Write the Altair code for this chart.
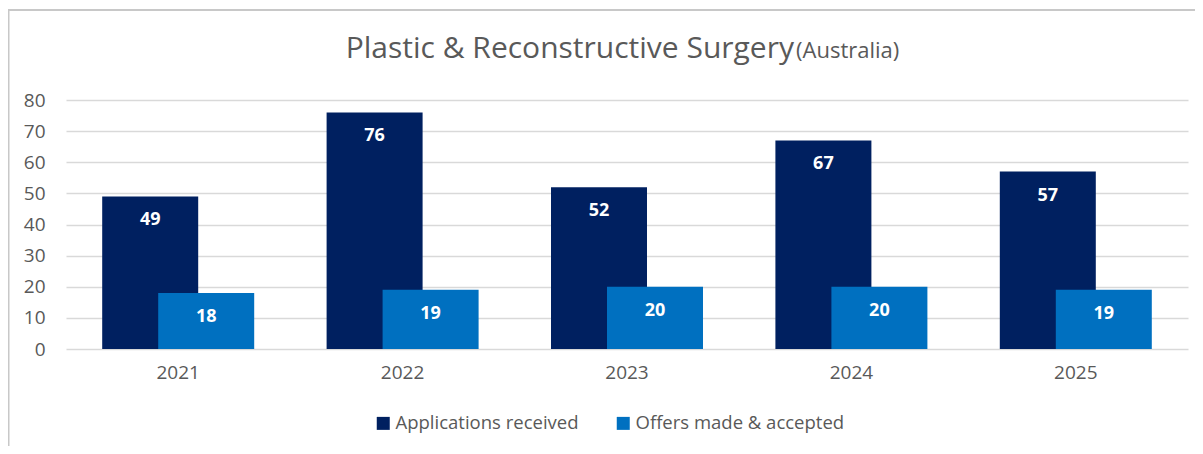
import altair as alt
import pandas as pd

years = ["2021", "2022", "2023", "2024", "2025"]
applications = [49, 76, 52, 67, 57]
offers = [18, 19, 20, 20, 19]
series_names = ["Applications received", "Offers made & accepted"]
series_colors = ["#002060", "#0070C0"]
y_ticks = [0, 10, 20, 30, 40, 50, 60, 70, 80]
title_main = "Plastic & Reconstructive Surgery"
title_sub = "(Australia)"

df = pd.DataFrame({
    "year": years * 2,
    "value": applications + offers,
    "series": [series_names[0]] * len(years) + [series_names[1]] * len(years),
})

FONT = "Open Sans"
GREY = "#595959"
W, H = 1122, 249
BAR_W = 96
OFF = 28

x_enc = alt.X(
    "year:N",
    sort=years,
    scale=alt.Scale(paddingInner=0, paddingOuter=0),
    axis=alt.Axis(title=None, labelAngle=0, domain=False, ticks=False,
                  labelPadding=14, labelFontSize=19, labelColor=GREY,
                  labelFont=FONT, grid=False),
)
y_enc = alt.Y(
    "value:Q",
    scale=alt.Scale(domain=[0, 80], nice=False),
    axis=alt.Axis(title=None, values=y_ticks, domain=False, ticks=False,
                  labelPadding=21, labelFontSize=19, labelColor=GREY,
                  labelFont=FONT, gridColor="#d9d9d9", gridWidth=1.5),
)
color_enc = alt.Color(
    "series:N",
    scale=alt.Scale(domain=series_names, range=series_colors),
    legend=alt.Legend(title=None, orient="none", legendX=308, legendY=314,
                      direction="horizontal", symbolType="square",
                      symbolSize=169, symbolStrokeWidth=0, labelFontSize=18.5,
                      labelColor=GREY, labelFont=FONT, columnPadding=35,
                      labelOffset=3, padding=0, labelLimit=400),
)

base = alt.Chart(df)
apps_f = alt.datum.series == series_names[0]
offs_f = alt.datum.series == series_names[1]

apps_bar = base.transform_filter(apps_f).mark_bar(width=BAR_W, xOffset=-OFF).encode(
    x=x_enc, y=y_enc, color=color_enc)
offs_bar = base.transform_filter(offs_f).mark_bar(width=BAR_W, xOffset=OFF).encode(
    x=x_enc, y=y_enc, color=color_enc)

txt_kw = dict(color="white", fontWeight="bold", fontSize=18, font=FONT,
              baseline="middle", align="center", dy=24)
apps_txt = base.transform_filter(apps_f).mark_text(xOffset=-OFF, **txt_kw).encode(
    x=x_enc, y=y_enc, text="value:Q")
offs_txt = base.transform_filter(offs_f).mark_text(xOffset=OFF, **txt_kw).encode(
    x=x_enc, y=y_enc, text="value:Q")

title_df = pd.DataFrame({"main": [title_main], "sub": [title_sub]})
t_main = alt.Chart(title_df).mark_text(
    font=FONT, fontSize=30, color=GREY, align="right", baseline="alphabetic"
).encode(text="main:N", x=alt.value(728), y=alt.value(-42))
t_sub = alt.Chart(title_df).mark_text(
    font=FONT, fontSize=22, color=GREY, align="left", baseline="alphabetic"
).encode(text="sub:N", x=alt.value(730), y=alt.value(-42))

border = alt.Chart(title_df).mark_rect(
    fillOpacity=0, stroke="#c8c8c8", strokeWidth=2
).encode(x=alt.value(-57.5), x2=alt.value(1300), y=alt.value(-90), y2=alt.value(500))

chart = alt.layer(
    border, apps_bar, offs_bar, apps_txt, offs_txt, t_main, t_sub
).properties(
    width=W, height=H,
    autosize=alt.AutoSizeParams(type="none"),
    padding={"left": 58, "top": 92, "right": 7, "bottom": 97},
    background="white",
).configure_view(stroke=None)

chart.save("out.html", embed_options={"renderer": "svg", "actions": False})
